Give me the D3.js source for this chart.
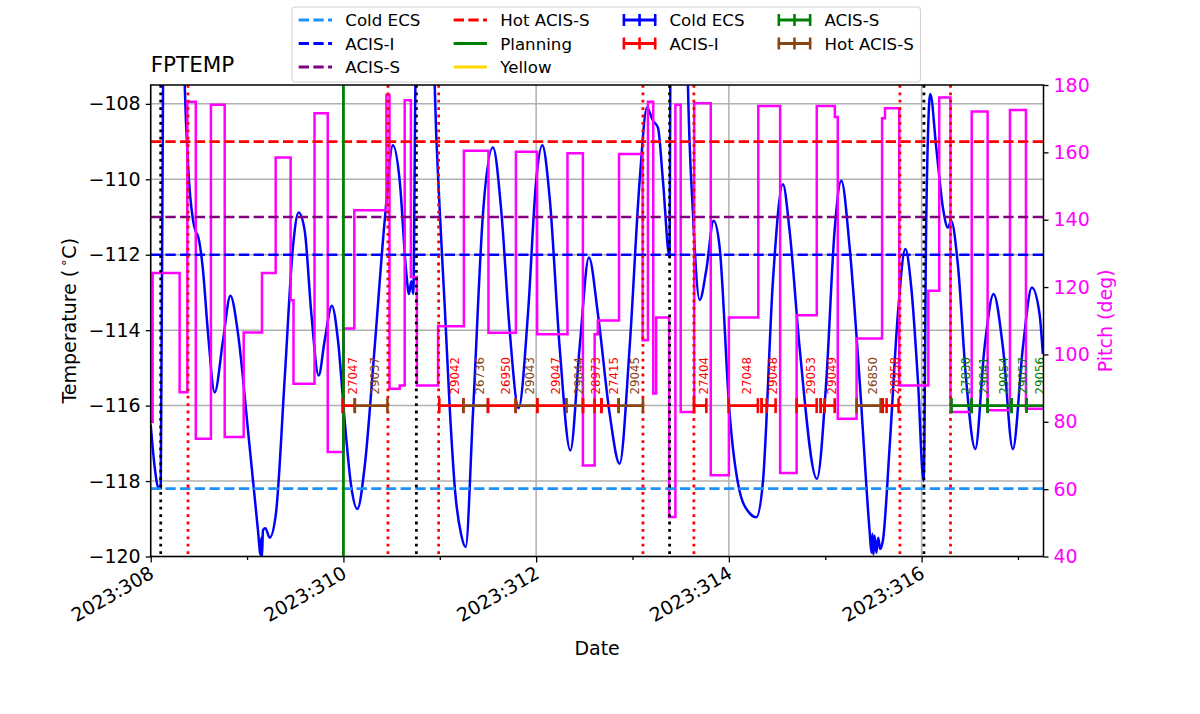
<!DOCTYPE html>
<html>
<head>
<meta charset="utf-8">
<script src="https://cdn.jsdelivr.net/npm/d3@7"></script>
<style>
  body { margin: 0; background: #fff; }
  text { font-family: "DejaVu Sans", sans-serif; }
</style>
</head>
<body>
<svg id="chart" width="1200" height="714"></svg>
<script>
// ---- data ----
// FPTEMP (deg C) against day of year 2023
const tempTimes = [308.000, 308.040, 308.076, 308.104, 308.128, 308.160, 308.250, 308.330, 308.353, 308.387,
  308.440, 308.470, 308.490, 308.540, 308.595, 308.664, 308.750, 308.827, 308.906, 309.010,
  309.113, 309.140, 309.148, 309.155, 309.165, 309.190, 309.235, 309.300, 309.390, 309.476,
  309.535, 309.598, 309.667, 309.743, 309.805, 309.880, 309.944, 310.013, 310.082, 310.145,
  310.220, 310.324, 310.428, 310.514, 310.584, 310.653, 310.680, 310.705, 310.725, 310.747,
  310.770, 310.850, 310.930, 310.947, 310.998, 311.050, 311.102, 311.160, 311.220, 311.268,
  311.344, 311.448, 311.552, 311.640, 311.725, 311.818, 311.915, 312.000, 312.064, 312.140,
  312.244, 312.355, 312.451, 312.548, 312.641, 312.763, 312.866, 312.970, 313.074, 313.150,
  313.213, 313.264, 313.316, 313.385, 313.392, 313.420, 313.500, 313.560, 313.575, 313.627,
  313.697, 313.766, 313.842, 313.904, 314.008, 314.110, 314.215, 314.285, 314.354, 314.457,
  314.561, 314.630, 314.734, 314.914, 315.011, 315.097, 315.167, 315.253, 315.357, 315.460,
  315.480, 315.490, 315.500, 315.512, 315.530, 315.550, 315.570, 315.600, 315.668, 315.754,
  315.831, 315.893, 315.962, 316.021, 316.049, 316.090, 316.152, 316.221, 316.273, 316.307,
  316.376, 316.463, 316.557, 316.653, 316.747, 316.844, 316.947, 317.051, 317.144, 317.224,
  317.258];
const tempValues = [-116.5, -117.6, -118.16, -118.2, -107.5, -104.5, -103.5, -105.0, -107.5, -109.6,
  -111.1, -111.4, -111.5, -112.34, -114.09, -115.65, -114.28, -113.09, -114.09, -116.66,
  -119.3, -119.95, -119.5, -120.0, -119.3, -119.25, -119.5, -118.85, -115.3, -111.8,
  -110.88, -111.36, -113.56, -115.2, -114.28, -113.35, -114.28, -116.4, -118.16, -118.74,
  -117.63, -114.46, -111.1, -109.1, -110.04, -112.5, -113.04, -112.7, -113.04, -107.5,
  -105.0, -104.0, -105.5, -107.5, -110.75, -113.3, -116.0, -118.3, -119.4, -119.75,
  -116.22, -110.92, -109.16, -110.9, -114.0, -116.07, -113.57, -110.04, -109.1, -110.48,
  -114.46, -117.19, -114.46, -112.07, -113.57, -116.22, -117.54, -114.46, -110.04, -108.1,
  -108.45, -108.63, -110.04, -112.07, -107.5, -105.0, -104.0, -105.5, -107.5, -110.9,
  -113.2, -112.4, -111.1, -111.8, -116.22, -118.25, -118.85, -118.96, -118.0, -112.7,
  -110.13, -111.36, -114.46, -117.94, -115.34, -111.36, -110.04, -111.8, -115.34, -119.31,
  -119.9, -119.4, -119.95, -119.45, -119.9, -119.5, -119.8, -119.55, -117.1, -113.57,
  -111.85, -112.87, -115.34, -118.0, -110.92, -107.74, -109.16, -110.75, -111.28, -111.1,
  -112.25, -115.34, -117.15, -114.46, -113.04, -114.46, -117.15, -114.46, -112.87, -113.57,
  -114.63];

// pitch (deg), held until the next time
const pitchTimes = [308.000, 308.020, 308.300, 308.380, 308.468, 308.625, 308.768, 308.965, 309.155, 309.297,
  309.452, 309.482, 309.700, 309.837, 310.003, 310.113, 310.446, 310.478, 310.584, 310.636,
  310.700, 310.762, 310.982, 311.250, 311.505, 311.790, 312.010, 312.325, 312.485, 312.607,
  312.640, 312.860, 313.105, 313.160, 313.215, 313.245, 313.380, 313.445, 313.500, 313.640,
  313.812, 314.000, 314.305, 314.532, 314.703, 314.912, 315.100, 315.130, 315.325, 315.590,
  315.620, 315.768, 316.070, 316.183, 316.300, 316.520, 316.685, 316.917, 317.083, 317.300];
const pitchValues = [80, 124.2, 88.8, 175.0, 75.0, 174.1, 75.5, 106.5, 124.2, 158.5,
  116.1, 91.3, 171.6, 71.0, 107.7, 142.8, 177.0, 89.8, 90.8, 175.5,
  123.0, 90.8, 108.4, 160.5, 106.4, 160.2, 106.0, 159.7, 67.0, 106.0,
  110.1, 159.5, 104.2, 175.0, 88.4, 111.0, 51.7, 174.1, 82.9, 174.6,
  64.1, 111.0, 173.8, 64.8, 111.6, 173.8, 170.5, 80.9, 104.7, 170.1,
  173.1, 90.8, 118.9, 176.3, 82.9, 172.1, 83.4, 172.6, 83.9, 83.9];

// limit lines
const limitNames = ["Cold ECS", "ACIS-I", "ACIS-S", "Hot ACIS-S"];
const limitValues = [-118.2, -112, -111, -109];
const limitColors = ["#1e90ff", "#0000ff", "#800080", "#ff0000"];

// vertical markers
const planningTimes = [310.0];
const blackTimes = [308.104, 310.757, 313.385, 316.024];
const redTimes = [308.387, 310.462, 310.988, 313.108, 313.637, 315.775, 316.300];

// obsids drawn along the -116 line
const obsStarts = [309.990, 310.118, 310.995, 311.245, 311.500, 311.787, 312.012, 312.313, 312.486, 312.607,
  312.676, 312.856, 313.637, 313.997, 314.340, 314.340, 314.703, 314.953, 314.953, 315.326,
  315.596, 315.596, 316.311, 316.519, 316.685, 316.934, 317.089];
const obsStops = [310.118, 310.457, 311.245, 311.500, 311.787, 312.012, 312.313, 312.486, 312.676, 312.676,
  312.856, 313.108, 313.766, 314.301, 314.485, 314.392, 314.911, 315.098, 314.994, 315.575,
  315.761, 315.637, 316.519, 316.685, 316.934, 317.089, 317.290];
const obsKinds = ["ACIS-I", "Hot ACIS-S", "ACIS-I", "Hot ACIS-S", "ACIS-I", "Hot ACIS-S", "ACIS-I", "Hot ACIS-S", "ACIS-I", "ACIS-I",
  "ACIS-I", "Hot ACIS-S", "ACIS-I", "ACIS-I", "ACIS-I", "ACIS-I", "ACIS-I", "ACIS-I", "ACIS-I", "Hot ACIS-S",
  "ACIS-I", "ACIS-I", "ACIS-S", "ACIS-S", "ACIS-S", "ACIS-S", "ACIS-S"];
const obsLabels = ["27047", "29037", "29042", "26736", "26950", "29043", "29047", "29044", "28973", "",
  "27415", "29045", "27404", "27048", "29048", "", "29053", "29049", "", "26850",
  "28958", "", "27830", "29041", "29054", "29057", "29056"];
const obsLevel = -116;

// ticks
const majorDays = [308, 310, 312, 314, 316];
const minorDays = [309, 311, 313, 315, 317];
const tempTicks = [-120, -118, -116, -114, -112, -110, -108];
const pitchTicks = [40, 60, 80, 100, 120, 140, 160, 180];

// ---- layout ----
const MARGIN = { left: 150.7, top: 85, right: 156.5, bottom: 157.5 };
const svg = d3.select("#chart");
const W = 1200 - MARGIN.left - MARGIN.right;
const H = 714 - MARGIN.top - MARGIN.bottom;

const kindColor = { "ACIS-I": "#ff0000", "Hot ACIS-S": "#8b4513", "ACIS-S": "#008000", "Cold ECS": "#0000ff" };

const x = d3.scaleLinear().domain([308.0, 317.265]).range([0, W]);
const y = d3.scaleLinear().domain([-120, -107.5]).range([H, 0]);
const yp = d3.scaleLinear().domain([40, 180]).range([H, 0]);

svg.append("defs").append("clipPath").attr("id", "plot-clip")
  .append("rect").attr("width", W).attr("height", H);

const g = svg.append("g").attr("transform", `translate(${MARGIN.left},${MARGIN.top})`);

// grid
g.append("g").selectAll("line").data(tempTicks).join("line")
  .attr("x1", 0).attr("x2", W).attr("y1", d => y(d)).attr("y2", d => y(d))
  .attr("stroke", "#b0b0b0").attr("stroke-width", 1.5);
g.append("g").selectAll("line").data(majorDays).join("line")
  .attr("x1", d => x(d)).attr("x2", d => x(d)).attr("y1", 0).attr("y2", H)
  .attr("stroke", "#b0b0b0").attr("stroke-width", 1.5);

const plot = g.append("g").attr("clip-path", "url(#plot-clip)");

// temperature curve
const tempData = tempTimes.map((t, i) => [t, tempValues[i]]);
plot.append("path").datum(tempData)
  .attr("fill", "none").attr("stroke", "#0000ff").attr("stroke-width", 2.5)
  .attr("stroke-linejoin", "round")
  .attr("d", d3.line().x(d => x(d[0])).y(d => y(d[1])).curve(d3.curveMonotoneX));

// pitch curve (right axis)
const pitchData = pitchTimes.map((t, i) => [t, pitchValues[i]]);
plot.append("path").datum(pitchData)
  .attr("fill", "none").attr("stroke", "#ff00ff").attr("stroke-width", 2.5)
  .attr("d", d3.line().x(d => x(d[0])).y(d => yp(d[1])).curve(d3.curveStepAfter));

// limit lines
limitValues.forEach((v, i) => {
  plot.append("line")
    .attr("x1", 0).attr("x2", W).attr("y1", y(v)).attr("y2", y(v))
    .attr("stroke", limitColors[i]).attr("stroke-width", 2.6)
    .attr("stroke-dasharray", "10.3,4.4");
});

// vertical markers
plot.selectAll(".planning").data(planningTimes).join("line")
  .attr("x1", d => x(d)).attr("x2", d => x(d)).attr("y1", 0).attr("y2", H)
  .attr("stroke", "#008000").attr("stroke-width", 2.8);
plot.selectAll(".vblack").data(blackTimes).join("line")
  .attr("x1", d => x(d)).attr("x2", d => x(d)).attr("y1", 0).attr("y2", H)
  .attr("stroke", "#000").attr("stroke-width", 2.8).attr("stroke-dasharray", "2.8,4.6");
plot.selectAll(".vred").data(redTimes).join("line")
  .attr("x1", d => x(d)).attr("x2", d => x(d)).attr("y1", 0).attr("y2", H)
  .attr("stroke", "#ff0000").attr("stroke-width", 2.8).attr("stroke-dasharray", "2.8,4.6");

// obsid bars
const obs = obsStarts.map((s, i) => ({ s, e: obsStops[i], kind: obsKinds[i], label: obsLabels[i] }));
const yo = y(obsLevel);
const ob = plot.append("g");
obs.forEach(o => {
  const c = kindColor[o.kind];
  ob.append("line").attr("x1", x(o.s)).attr("x2", x(o.e)).attr("y1", yo).attr("y2", yo)
    .attr("stroke", c).attr("stroke-width", 2.8);
  [o.s, o.e].forEach(t => {
    ob.append("line").attr("x1", x(t)).attr("x2", x(t)).attr("y1", yo - 7.5).attr("y2", yo + 7.5)
      .attr("stroke", c).attr("stroke-width", 2.6);
  });
});
obs.filter(o => o.label).forEach(o => {
  const lx = x((o.s + o.e) / 2) + 8;
  const ly = yo - 11;
  ob.append("text").attr("transform", `translate(${lx},${ly}) rotate(-90)`)
    .attr("font-size", 11.8).attr("fill", kindColor[o.kind]).text(o.label);
});

// frame
g.append("rect").attr("width", W).attr("height", H)
  .attr("fill", "none").attr("stroke", "#000").attr("stroke-width", 1.5);

// axes
const minus = v => String(v).replace("-", "\u2212");
const yAxis = g.append("g")
  .call(d3.axisLeft(y).tickValues(tempTicks).tickSize(5).tickPadding(5).tickFormat(minus));
const xAxis = g.append("g").attr("transform", `translate(0,${H})`)
  .call(d3.axisBottom(x).tickValues(majorDays).tickSize(6).tickFormat(d => "2023:" + d));
const xMinor = g.append("g").attr("transform", `translate(0,${H})`)
  .call(d3.axisBottom(x).tickValues(minorDays).tickSize(3.5).tickFormat(""));
const pAxis = g.append("g").attr("transform", `translate(${W},0)`)
  .call(d3.axisRight(yp).tickValues(pitchTicks).tickSize(5).tickPadding(5));

[yAxis, xAxis, xMinor, pAxis].forEach(a => {
  a.select(".domain").remove();
  a.selectAll(".tick line").attr("stroke", "#000").attr("stroke-width", 1.3);
  a.selectAll("text").attr("font-family", "DejaVu Sans").attr("font-size", 19).attr("fill", "#000");
});
pAxis.selectAll("text").attr("fill", "#ff00ff");
xAxis.selectAll("text")
  .attr("x", 4).attr("y", 20.5).attr("dy", 0)
  .attr("text-anchor", "end")
  .attr("transform", "rotate(-30 4 20.5)");

// axis labels and title
svg.append("text").attr("x", MARGIN.left).attr("y", 72)
  .attr("font-size", 21.5).text("FPTEMP");
svg.append("text").attr("x", MARGIN.left + W / 2).attr("y", 655)
  .attr("text-anchor", "middle").attr("font-size", 19).text("Date");
const tl = svg.append("text")
  .attr("transform", `translate(76,${MARGIN.top + H / 2}) rotate(-90)`)
  .attr("text-anchor", "middle").attr("font-size", 19);
tl.append("tspan").text("Temperature (");
tl.append("tspan").attr("font-size", 13).attr("dy", -8).attr("dx", 3).text("\u2218");
tl.append("tspan").attr("dy", 8).text("C)");
svg.append("text")
  .attr("transform", `translate(1112,${MARGIN.top + H / 2}) rotate(-90)`)
  .attr("text-anchor", "middle").attr("font-size", 19).attr("fill", "#ff00ff")
  .text("Pitch (deg)");

// ---- legend ----
const legendItems = [
  ...limitNames.map((n, i) => ({ name: n, type: "dash", color: limitColors[i] })),
  { name: "Planning", type: "solid", color: "#008000" },
  { name: "Yellow", type: "solid", color: "#ffd700" },
  { name: "Cold ECS", type: "bar", color: kindColor["Cold ECS"] },
  { name: "ACIS-I", type: "bar", color: kindColor["ACIS-I"] },
  { name: "ACIS-S", type: "bar", color: kindColor["ACIS-S"] },
  { name: "Hot ACIS-S", type: "bar", color: kindColor["Hot ACIS-S"] }
];
const colSizes = [3, 3, 2, 2];
const FS = 16.67, HANDLE = 33.3, HPAD = 13.3, CSPACE = 33.3, BPAD = 6.7;
const legLeft = 292, legTop = 7, rowH = 23.5, firstRow = 20;
const leg = svg.append("g");
const box = leg.append("rect");
let cx = legLeft + BPAD, idx = 0;
colSizes.forEach(n => {
  let maxW = 0;
  for (let r = 0; r < n; r++, idx++) {
    const it = legendItems[idx];
    const cy = firstRow + r * rowH;
    const hl = leg.append("line").attr("x1", cx).attr("x2", cx + HANDLE).attr("y1", cy).attr("y2", cy)
      .attr("stroke", it.color).attr("stroke-width", 2.8);
    if (it.type === "dash") hl.attr("stroke-dasharray", "10.3,4.4");
    if (it.type === "bar") {
      [cx + 1, cx + HANDLE / 2, cx + HANDLE - 1].forEach(tx => {
        leg.append("line").attr("x1", tx).attr("x2", tx).attr("y1", cy - 6).attr("y2", cy + 6)
          .attr("stroke", it.color).attr("stroke-width", 2.6);
      });
    }
    const t = leg.append("text").attr("x", cx + HANDLE + HPAD).attr("y", cy + 6)
      .attr("font-size", FS).text(it.name);
    maxW = Math.max(maxW, t.node().getComputedTextLength());
  }
  cx += HANDLE + HPAD + maxW + CSPACE;
});
const legRight = cx - CSPACE + BPAD;
box.attr("x", legLeft).attr("y", legTop).attr("width", legRight - legLeft).attr("height", 75)
  .attr("rx", 3).attr("fill", "#fff").attr("fill-opacity", 0.85)
  .attr("stroke", "#d0d0d0").attr("stroke-width", 1);
</script>
</body>
</html>
